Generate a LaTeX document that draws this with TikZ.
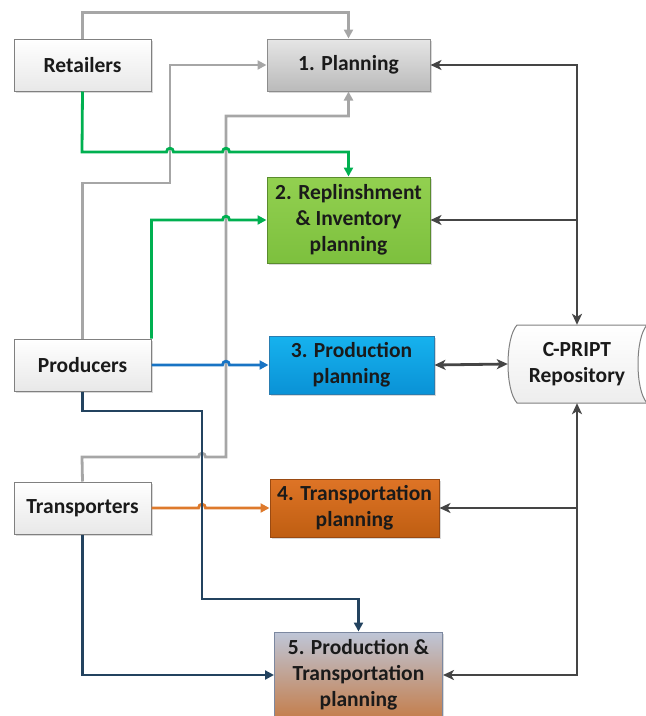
\documentclass[tikz,border=0pt]{standalone}
\usepackage{fontspec}
\setmainfont{Carlito}
\usetikzlibrary{arrows.meta,shadows}

\definecolor{lnGray}{HTML}{A6A6A6}
\definecolor{lnGreen}{HTML}{00B050}
\definecolor{lnBlue}{HTML}{1874C4}
\definecolor{lnNavy}{HTML}{23435F}
\definecolor{lnOrange}{HTML}{DE7A2C}
\definecolor{lnDark}{HTML}{454545}
\definecolor{txt}{HTML}{1A1A1A}
\definecolor{grnTop}{HTML}{92D050}
\definecolor{grnBot}{HTML}{7DC03E}
\definecolor{grnEdge}{HTML}{5A8C2E}
\definecolor{bluTop}{HTML}{16B2EE}
\definecolor{bluBot}{HTML}{0A92D6}
\definecolor{bluEdge}{HTML}{2A7DB0}
\definecolor{orgTop}{HTML}{DE7426}
\definecolor{orgBot}{HTML}{BF5E12}
\definecolor{orgEdge}{HTML}{9A4A12}
\definecolor{mixTop}{HTML}{BEC6D8}
\definecolor{mixBot}{HTML}{C47E4C}
\definecolor{mixEdge}{HTML}{7C88A0}

\tikzset{
  label text/.style={align=center, text=txt,
    font=\fontsize{21.5}{26}\selectfont\bfseries, inner sep=0pt},
  base/.style={label text, rectangle, line width=1pt,
    drop shadow={shadow xshift=1.5pt, shadow yshift=-1.5pt, opacity=0.25, fill=black!60}},
  actor/.style={base, draw=black!50, top color=white, bottom color=black!9,
    minimum width=137pt, minimum height=52pt},
  plan1/.style={base, draw=black!45, top color=black!10, bottom color=black!27},
  plan2/.style={base, draw=grnEdge, top color=grnTop, bottom color=grnBot},
  plan3/.style={base, draw=bluEdge, top color=bluTop, bottom color=bluBot},
  plan4/.style={base, draw=orgEdge, top color=orgTop, bottom color=orgBot},
  plan5/.style={base, draw=mixEdge, top color=mixTop, bottom color=mixBot},
  conn/.style={line width=2.8pt},
  tipc/.style={-{Triangle[length=9pt,width=9pt]}},
  gr/.style={conn, lnGray, tipc},
  gn/.style={conn, lnGreen, tipc},
  bl/.style={conn, lnBlue, tipc},
  nv/.style={conn, lnNavy, tipc},
  og/.style={conn, lnOrange, tipc},
  dk/.style={conn, lnDark, -{Stealth[length=11pt,width=10pt,inset=3pt]}},
  dkboth/.style={conn, lnDark, {Stealth[length=11pt,width=10pt,inset=3pt]}-{Stealth[length=11pt,width=10pt,inset=3pt]}},
  hop/.style 2 args={insert path={-- (#1-3.5,#2) .. controls (#1-3.5,#2-5) and (#1+3.5,#2-5) .. (#1+3.5,#2)}}
}

\begin{document}
\begin{tikzpicture}[x=1pt,y=-1pt]
\useasboundingbox (0,0) rectangle (646,716);

% stakeholders
\node[actor] (ret)   at (82.5,65)  {Retailers};
\node[actor] (prod)  at (82.5,365) {Producers};
\node[actor] (trans) at (82.5,508) {Transporters};

% planning levels
\node[plan1, minimum width=163pt, minimum height=52pt] (plan) at (348.5,65) {1. Planning};
\node[plan2, minimum width=163pt, minimum height=86pt] (rep)  at (348.5,220) {2. Replinshment\\\& Inventory\\planning};
\node[plan3, minimum width=165pt, minimum height=58pt] (prp)  at (351.5,365) {3. Production\\planning};
\node[plan4, minimum width=169pt, minimum height=58pt] (trp)  at (354.5,508) {4. Transportation\\planning};
\node[plan5, minimum width=168pt, minimum height=86pt] (ptp)  at (358.5,675) {5. Production \&\\Transportation\\planning};

% stored-data outline of the repository
\path[draw=black!50, line width=1pt, top color=white, bottom color=black!7]
  (517,325) -- (647,325) .. controls (635,338) and (635,390) .. (647,403)
  -- (517,403) .. controls (505,390) and (505,338) .. (517,325) -- cycle;
\node[label text, minimum width=138pt, minimum height=78pt] (repo) at (577,364) {C-PRIPT\\Repository};

% grey links into 1. Planning
\draw[gr] (ret.north) -- ++(0,-26) -| (plan.north);
\draw[gr] (prod.north) |- (170,183) |- (plan.west);
\draw[gr] (trans.north) -- (82,457) [hop={202}{457}] -- (226,457) -- (226,116) -| (plan.south);

% green links into 2.
\draw[gn] (ret.south) -- (82,152) [hop={170}{152}] [hop={226}{152}] -| (rep.north);
\draw[gn] (prod.north east) -- (prod.north east |- rep.west) [hop={226}{220}] -- (rep.west);

% blue link into 3.
\draw[bl] (prod.east) [hop={226}{365}] -- (prp.west);

% orange link into 4.
\draw[og] (trans.east) [hop={202}{508}] -- (trp.west);

% navy links into 5.
\draw[nv] (prod.south) |- (202,411) -- (202,599) -| (ptp.north);
\draw[nv] (trans.south) |- (ptp.west);

% repository exchanges
\draw[dkboth] (plan.east) -| (repo.north);
\draw[dk] (rep.east -| repo.north) -- (rep.east);
\draw[dkboth] (prp.east) -- (repo.west);
\draw[dkboth] (ptp.east) -| (repo.south);
\draw[dk] (trp.east -| repo.south) -- (trp.east);
\end{tikzpicture}
\end{document}
